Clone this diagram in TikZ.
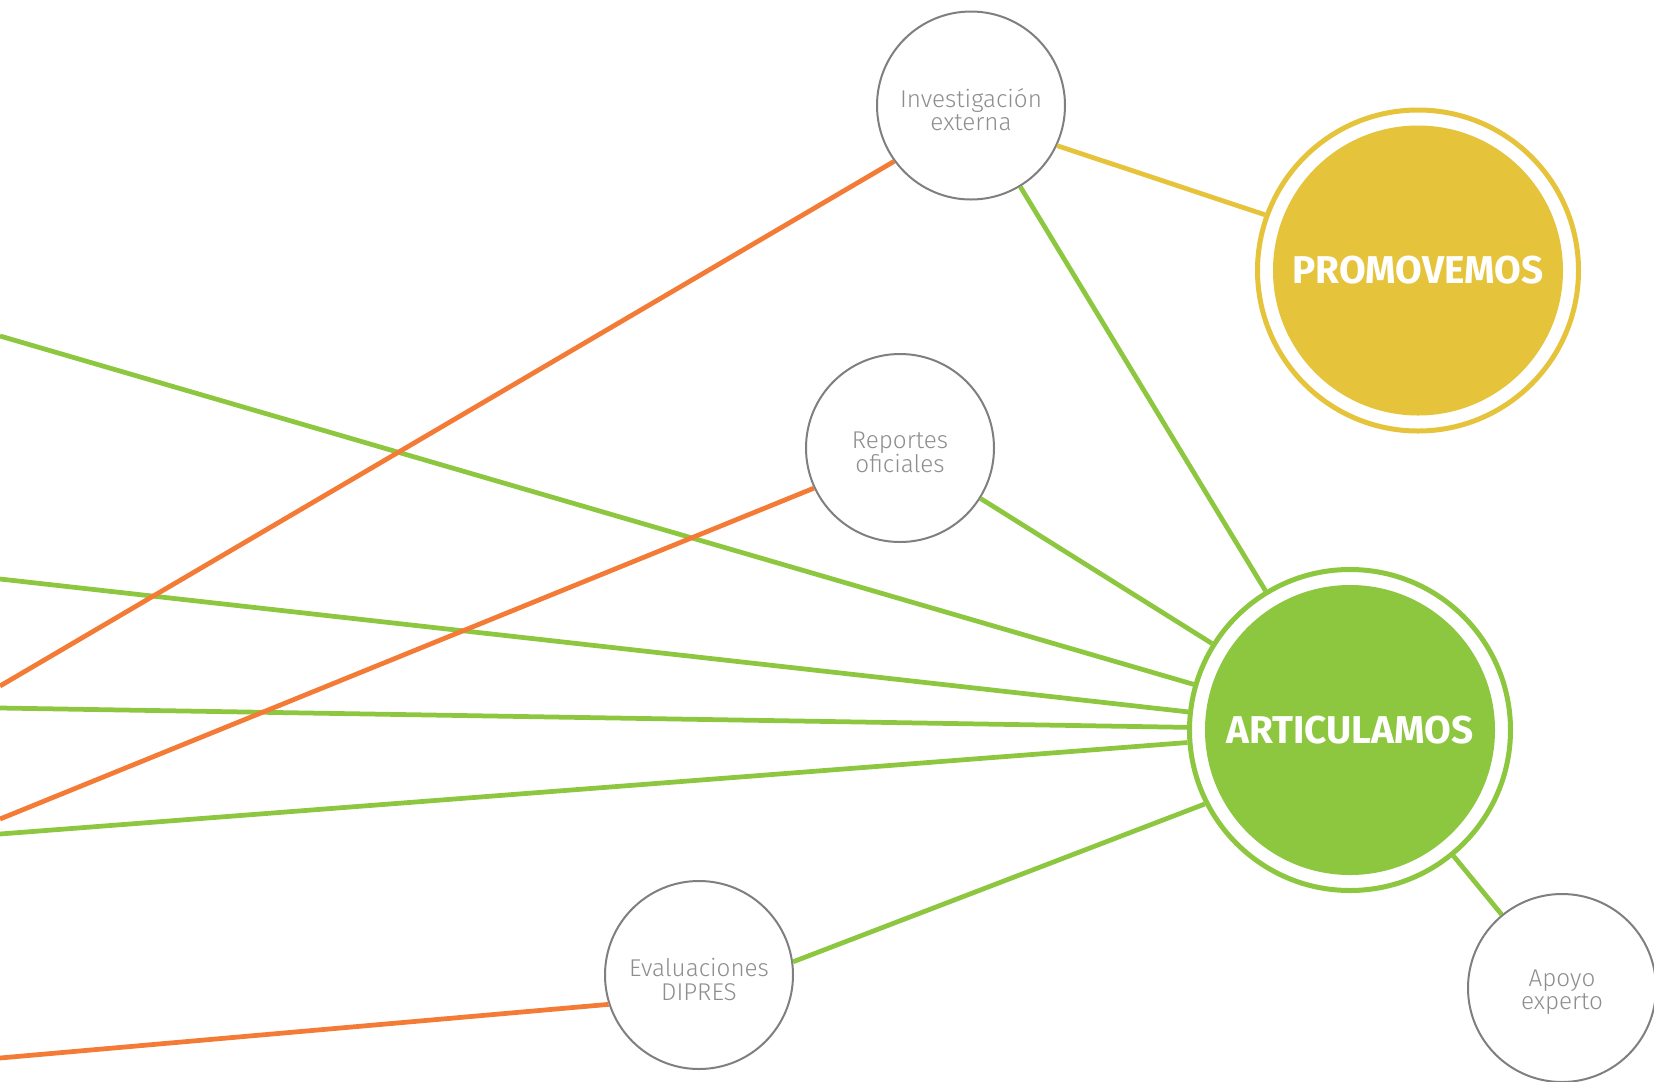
\documentclass[tikz,border=0pt]{standalone}
\usepackage{fontspec}
\setmainfont{Fira Sans}
\newfontfamily\lightfont{Fira Sans Light}
\definecolor{artgreen}{HTML}{8DC63F}
\definecolor{linkorange}{HTML}{F37B36}
\definecolor{proyellow}{HTML}{E5C33A}
\definecolor{ringgrey}{HTML}{7F7F82}
\definecolor{labelgrey}{HTML}{8E8E91}
\begin{document}
\begin{tikzpicture}[x=0.4pt,y=-0.4pt,
  source/.style={circle, draw=ringgrey, line width=0.8pt, fill=white, minimum size=75.2pt, inner sep=0pt},
  srctext/.style={align=center, text=labelgrey, yshift=-1.7pt, inner sep=0pt, font=\lightfont\fontsize{9.7}{9.4}\selectfont},
  ringnode/.style={circle, line width=2pt, fill=white, minimum size=128.4pt, inner sep=0pt},
  corenode/.style={circle, minimum size=116pt, inner sep=0pt, text=white, font=\bfseries\fontsize{15.5}{18}\selectfont},
  link/.style={line width=1.9pt}
]
\useasboundingbox (0,0) rectangle (1654,1081);
% hubs
\node[ringnode, draw=proyellow] (pro) at (1418,270.5) {};
\node[corenode, fill=proyellow] (procore) at (pro) {PROMOVEMOS};
\node[ringnode, draw=artgreen] (art) at (1350,730) {};
\node[corenode, fill=artgreen] (artcore) at (art) {ARTICULAMOS};
% sources
\node[source, label={[srctext]center:Investigación\\externa}] (inv) at (971,105.5) {};
\node[source, label={[srctext]center:Reportes\\oficiales}] (rep) at (900,448) {};
\node[source, label={[srctext]center:Evaluaciones\\DIPRES}] (eva) at (699,975) {};
\node[source, label={[srctext]center:Apoyo\\experto}] (apo) at (1562,988) {};
% free ends on the left edge
\coordinate (g1) at (0,336);
\coordinate (g2) at (0,579);
\coordinate (g3) at (0,708);
\coordinate (g4) at (0,834);
\coordinate (o1) at (0,686);
\coordinate (o2) at (0,819);
\coordinate (o3) at (0,1058);
% green links
\draw[link, artgreen] (g1) -- (art);
\draw[link, artgreen] (g2) -- (art);
\draw[link, artgreen] (g3) -- (art);
\draw[link, artgreen] (g4) -- (art);
\draw[link, artgreen] (inv) -- (art);
\draw[link, artgreen] (rep) -- (art);
\draw[link, artgreen] (eva.8) -- (art.207);
\draw[link, artgreen] (art) -- (apo);
% orange links
\draw[link, linkorange] (o1) -- (inv.216.6);
\draw[link, linkorange] (o2) -- (rep.205.5);
\draw[link, linkorange] (o3) -- (eva.198);
% yellow link
\draw[link, proyellow] (inv.335.3) -- (pro.160.2);
\end{tikzpicture}
\end{document}
